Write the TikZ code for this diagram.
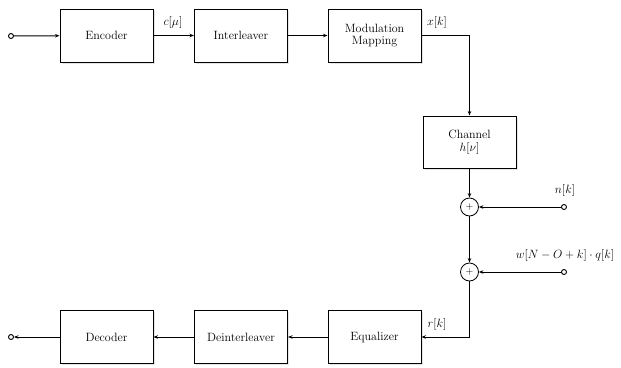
\documentclass[tikz,border=0pt]{standalone}
\usetikzlibrary{arrows.meta,shadows}
\begin{document}
\begin{tikzpicture}[x=1pt,y=-1pt,
  font=\fontsize{12}{14}\selectfont,
  blk/.style={draw, line width=1pt, fill=white, minimum width=93pt, minimum height=53pt, align=center, inner sep=1pt,
    drop shadow={shadow xshift=1.8pt, shadow yshift=-1.8pt, fill=black!20, opacity=0.5}},
  sum/.style={draw, circle, line width=0.8pt, minimum size=18pt, inner sep=0pt, fill=white},
  term/.style={draw, circle, line width=0.9pt, minimum size=5pt, inner sep=0pt, fill=white},
  arr/.style={line width=1pt, -{Stealth[length=4.5pt,width=3.5pt]}},
  lbl/.style={inner sep=1pt}]
\useasboundingbox (0,0) rectangle (621,367);
\node[term] (in) at (11,36) {};
\node[blk] (enc) at (106.5,35.5) {Encoder};
\node[blk] (intl) at (241,35.5) {Interleaver};
\node[blk] (mod) at (374.5,35.5) {Modulation\\[-2pt]Mapping};
\node[blk, minimum height=52pt] (ch) at (469.5,142) {Channel\\[-1pt]$h[\nu]$};
\node[sum] (p1) at (469.5,207) {\fontsize{10}{10}\selectfont$+$};
\node[sum] (p2) at (469.5,272) {\fontsize{10}{10}\selectfont$+$};
\node[term] (nend) at (564,207) {};
\node[term] (wend) at (564,272) {};
\node[blk] (eq) at (374.5,337) {Equalizer};
\node[blk] (deint) at (241,337) {Deinterleaver};
\node[blk] (dec) at (106.5,337) {Decoder};
\node[term] (out) at (11,337) {};

\node[lbl] (lc) at (173,22) {$c[\mu]$};
\node[lbl] (lx) at (437,22) {$x[k]$};
\node[lbl] (lr) at (437,324) {$r[k]$};
\node[lbl] (ln) at (565,190) {$n[k]$};
\node[lbl] (lw) at (565,255) {$w[N-O+k]\cdot q[k]$};

\draw[arr] (in) -- (enc);
\draw[arr] (enc) -- (intl);
\draw[arr] (intl) -- (mod);
\draw[arr] (mod.east) -| (ch.north);
\draw[arr] (ch) -- (p1);
\draw[arr] (p1) -- (p2);
\draw[arr] (nend) -- (p1);
\draw[arr] (wend) -- (p2);
\draw[arr] (p2) |- (eq.east);
\draw[arr] (eq) -- (deint);
\draw[arr] (deint) -- (dec);
\draw[arr] (dec) -- (out);
\end{tikzpicture}
\end{document}
